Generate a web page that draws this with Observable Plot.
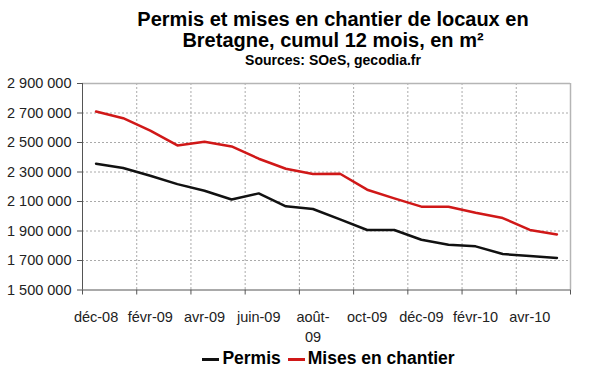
<!DOCTYPE html>
<html>
<head>
<meta charset="utf-8">
<script src="https://cdn.jsdelivr.net/npm/d3@7"></script>
<script src="https://cdn.jsdelivr.net/npm/@observablehq/plot@0.6"></script>
<style>
  html, body { margin: 0; padding: 0; background: #fff; }
  body { width: 600px; height: 372px; overflow: hidden; font-family: "Liberation Sans", Arial, sans-serif; color: #000; }
  #title { box-sizing: border-box; height: 72px; padding-top: 9px; padding-left: 66px; text-align: center; }
  #title .t { font-size: 20px; font-weight: bold; line-height: 20.5px; }
  #title .s { font-size: 14px; font-weight: bold; line-height: 16px; margin-top: 1.6px; }
  #chart svg { display: block; }
  #legend { box-sizing: border-box; height: 24px; padding-left: 57px; text-align: center; font-size: 17.5px; font-weight: bold; line-height: 20px; white-space: nowrap; }
  #legend .item { display: inline-block; }
  #legend .item + .item { margin-left: 7px; }
  #legend .sw { display: inline-block; width: 17px; height: 3px; vertical-align: middle; margin-right: 3px; }
</style>
</head>
<body>
<div id="title">
  <div class="t">Permis et mises en chantier de locaux en<br>Bretagne, cumul 12 mois, en m²</div>
  <div class="s">Sources: SOeS, gecodia.fr</div>
</div>
<div id="chart"></div>
<div id="legend"></div>
<script>
// ---- data ----
const months = ["déc-08","janv-09","févr-09","mars-09","avr-09","mai-09","juin-09","juil-09","août-09",
                "sept-09","oct-09","nov-09","déc-09","janv-10","févr-10","mars-10","avr-10","mai-10"];
const permis = [2356000, 2327000, 2275000, 2218000, 2173000, 2114000, 2155000, 2067000, 2049000,
                1979000, 1907000, 1907000, 1841000, 1807000, 1796000, 1744000, 1731000, 1717000];
const chantier = [2710000, 2665000, 2580000, 2480000, 2505000, 2473000, 2390000, 2322000, 2286000,
                  2288000, 2180000, 2121000, 2065000, 2065000, 2024000, 1988000, 1907000, 1877000];
const seriesNames = ["Permis", "Mises en chantier"];
const seriesColors = ["#111111", "#d01818"];
const yTicks = [1500000, 1700000, 1900000, 2100000, 2300000, 2500000, 2700000, 2900000];
const xTickLabels = ["déc-08", "févr-09", "avr-09", "juin-09", "août-\n09", "oct-09", "déc-09", "févr-10", "avr-10"];

// ---- derived ----
const n = months.length;
const rows = [];
months.forEach((m, i) => {
  rows.push({i, month: m, series: seriesNames[0], value: permis[i]});
  rows.push({i, month: m, series: seriesNames[1], value: chantier[i]});
});
const labelData = xTickLabels.map((t, k) => ({i: 2 * k, t}));
const boundaries = d3.range(-0.5, n + 0.5, 2);            // category boundaries every 2 months
const innerBounds = boundaries.filter(b => b > -0.5 && b < n - 0.5);
const yMin = yTicks[0], yMax = yTicks[yTicks.length - 1];
const fmt = d3.formatLocale({decimal: ",", thousands: " ", grouping: [3], currency: ["", " €"]}).format(",d");
const font = "'Liberation Sans', Arial, sans-serif";

const plot = Plot.plot({
  width: 600,
  height: 276,
  marginLeft: 82,
  marginRight: 30,
  marginTop: 11,
  marginBottom: 58.5,
  style: {fontFamily: font, fontSize: "14.5px", color: "#222", background: "#fff"},
  x: {type: "linear", domain: [-0.5, n - 0.5]},
  y: {domain: [yMin, yMax]},
  color: {domain: seriesNames, range: seriesColors},
  marks: [
    Plot.ruleY(yTicks.filter(v => v > yMin && v < yMax), {stroke: "#aaa", strokeDasharray: "2,2", strokeWidth: 1}),
    Plot.ruleX(innerBounds, {stroke: "#aaa", strokeDasharray: "2,2", strokeWidth: 1}),
    Plot.ruleY([yMax], {stroke: "#b5b5b5", strokeWidth: 1.5}),
    Plot.ruleX([n - 0.5], {stroke: "#b5b5b5", strokeWidth: 1.5}),
    Plot.axisY({ticks: yTicks, tickFormat: fmt, tickSize: 5, tickPadding: 6, stroke: "#555", fontSize: 14.5, label: null}),
    Plot.axisX({ticks: boundaries, tickFormat: () => "", tickSize: 5, stroke: "#555", label: null}),
    Plot.text(labelData, {x: "i", text: "t", frameAnchor: "bottom", lineAnchor: "top", dy: 17.5, lineHeight: 1.38, fontSize: 14.5, fill: "#222"}),
    Plot.ruleX([-0.5], {stroke: "#555", strokeWidth: 1}),
    Plot.ruleY([yMin], {stroke: "#555", strokeWidth: 1}),
    Plot.line(rows, {x: "i", y: "value", z: "series", stroke: "series", strokeWidth: 2.5, strokeLinejoin: "round"})
  ]
});
document.getElementById("chart").appendChild(plot);

// ---- legend ----
const legend = document.getElementById("legend");
seriesNames.forEach((name, k) => {
  const item = document.createElement("span");
  item.className = "item";
  const sw = document.createElement("span");
  sw.className = "sw";
  sw.style.background = seriesColors[k];
  item.appendChild(sw);
  item.appendChild(document.createTextNode(name));
  legend.appendChild(item);
});
</script>
</body>
</html>
